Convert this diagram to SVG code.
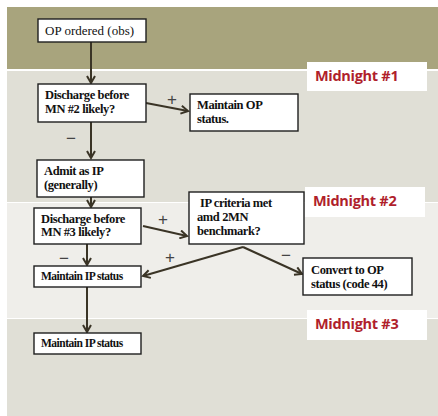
<svg xmlns="http://www.w3.org/2000/svg" width="438" height="416" viewBox="0 0 438 416">
<defs>
<style>
.box{fill:#fff;stroke:#1e1e1e;stroke-width:1.4}
.t{font-family:"Liberation Serif","Times New Roman",serif;font-size:12.5px;fill:#111}
.b{font-weight:bold;letter-spacing:-0.4px}
.s{font-size:11.5px;letter-spacing:-0.5px}
.r{font-size:13px}
.mn{font-family:"Open Sans","Liberation Sans",sans-serif;font-weight:bold;font-size:14.5px;fill:#b01f2c;letter-spacing:-0.3px}
.mnbox{fill:#fff}
.c{fill:none;stroke:#3a3426;stroke-width:2}
.sg{font-family:"Liberation Sans",Arial,sans-serif;font-size:17px;fill:#444}
</style>
<marker id="ah" markerWidth="10" markerHeight="10" refX="8" refY="5" orient="auto" markerUnits="userSpaceOnUse" viewBox="0 0 10 10">
<path d="M1,1 L8,5 L1,9" fill="none" stroke="#3a3426" stroke-width="2"/>
</marker>
</defs>
<rect x="0" y="0" width="438" height="416" fill="#fff"/>
<rect x="7" y="7" width="431" height="62" fill="#a8a47d"/>
<rect x="7" y="71" width="431" height="131" fill="#e0dfd6"/>
<rect x="7" y="203" width="431" height="115" fill="#efeeea"/>
<rect x="7" y="319" width="431" height="97" fill="#e0dfd6"/>

<g id="midnight1"><rect class="mnbox" x="307" y="62" width="120" height="29"/><text class="mn" x="315" y="81">Midnight #1</text></g>
<g id="midnight2"><rect class="mnbox" x="305" y="187" width="120" height="30"/><text class="mn" x="313" y="206">Midnight #2</text></g>
<g id="midnight3"><rect class="mnbox" x="307" y="310" width="120" height="30"/><text class="mn" x="315" y="329">Midnight #3</text></g>

<g id="connectors">
<line class="c" x1="91" y1="42" x2="91" y2="83" marker-end="url(#ah)"/>
<line class="c" x1="146" y1="103" x2="188" y2="111" marker-end="url(#ah)"/>
<line class="c" x1="91" y1="122" x2="91" y2="158" marker-end="url(#ah)"/>
<line class="c" x1="91" y1="197" x2="91" y2="207" marker-end="url(#ah)"/>
<line class="c" x1="143" y1="226" x2="187" y2="236" marker-end="url(#ah)"/>
<line class="c" x1="87" y1="244" x2="87" y2="265" marker-end="url(#ah)"/>
<polyline class="c" points="243,247 143,276" marker-end="url(#ah)"/>
<polyline class="c" points="243,247 302,274" marker-end="url(#ah)"/>
<line class="c" x1="87" y1="287" x2="87" y2="332" marker-end="url(#ah)"/>
<text class="sg" x="167" y="105">+</text>
<text class="sg" x="66" y="144">−</text>
<text class="sg" x="158" y="225">+</text>
<text class="sg" x="59" y="264">−</text>
<text class="sg" x="165" y="263">+</text>
<text class="sg" x="281" y="261">−</text>
</g>

<g id="op-ordered"><rect class="box" x="38" y="19" width="108" height="23"/><text class="t r" x="45" y="35">OP ordered (obs)</text></g>
<g id="discharge-mn2"><rect class="box" x="38" y="84" width="108" height="38"/><text class="t b" x="45" y="99">Discharge before</text><text class="t b" x="45" y="113">MN #2 likely?</text></g>
<g id="maintain-op"><rect class="box" x="190" y="94" width="108" height="37"/><text class="t b" x="197" y="109">Maintain OP</text><text class="t b" x="197" y="123">status.</text></g>
<g id="admit-ip"><rect class="box" x="37" y="160" width="107" height="37"/><text class="t b" x="44" y="175">Admit as IP</text><text class="t b" x="44" y="189">(generally)</text></g>
<g id="discharge-mn3"><rect class="box" x="34" y="208" width="107" height="36"/><text class="t b" x="41" y="223">Discharge before</text><text class="t b" x="41" y="236">MN #3 likely?</text></g>
<g id="ip-criteria"><rect class="box" x="189" y="192" width="115" height="52"/><text class="t b" x="200" y="207">IP criteria met</text><text class="t b" x="197" y="221">amd 2MN</text><text class="t b" x="197" y="235">benchmark?</text></g>
<g id="maintain-ip-1"><rect class="box" x="34" y="266" width="107" height="21"/><text class="t b s" x="41" y="280">Maintain IP status</text></g>
<g id="convert-op"><rect class="box" x="303" y="258" width="109" height="37"/><text class="t b" x="311" y="274">Convert to OP</text><text class="t b" x="311" y="288">status (code 44)</text></g>
<g id="maintain-ip-2"><rect class="box" x="34" y="333" width="107" height="21"/><text class="t b s" x="41" y="347">Maintain IP status</text></g>
</svg>
